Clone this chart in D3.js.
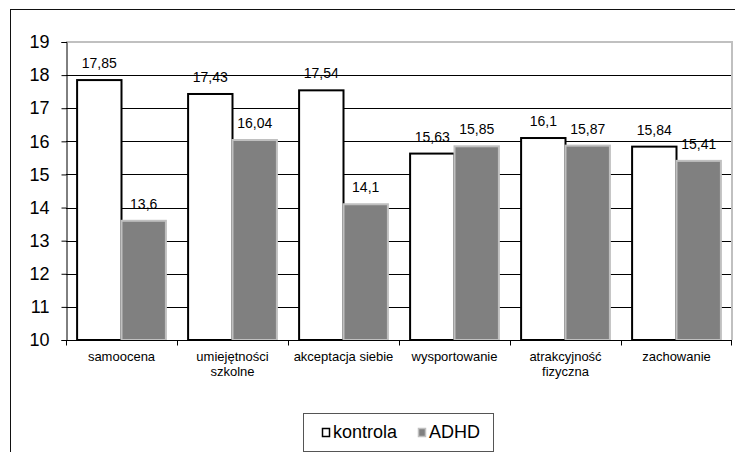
<!DOCTYPE html>
<html>
<head>
<meta charset="utf-8">
<script src="https://cdn.jsdelivr.net/npm/d3@7"></script>
<style>
  body { margin: 0; background: #fff; }
  svg { font-family: Arial, "Liberation Sans", sans-serif; display: block; }
</style>
</head>
<body>
<div id="chart"></div>
<script>
const categories = ['samoocena', 'umiejętności szkolne', 'akceptacja siebie', 'wysportowanie', 'atrakcyjność fizyczna', 'zachowanie'];
const categoryLines = [['samoocena'], ['umiejętności', 'szkolne'], ['akceptacja siebie'], ['wysportowanie'], ['atrakcyjność', 'fizyczna'], ['zachowanie']];
const seriesNames = ['kontrola', 'ADHD'];
const kontrola = [17.85, 17.43, 17.54, 15.63, 16.1, 15.84];
const adhd = [13.6, 16.04, 14.1, 15.85, 15.87, 15.41];
const yTicks = [10, 11, 12, 13, 14, 15, 16, 17, 18, 19];

const width = 735, height = 452;
const plot = {left: 66, right: 732, top: 42, bottom: 340};

const svg = d3.select('#chart').append('svg')
    .attr('width', width)
    .attr('height', height);

// outer frame (only top and left visible in the crop)
svg.append('line')
    .attr('x1', 10).attr('x2', width).attr('y1', 9.5).attr('y2', 9.5)
    .attr('stroke', '#111').attr('stroke-width', 1);
svg.append('line')
    .attr('x1', 10.5).attr('x2', 10.5).attr('y1', 9).attr('y2', height)
    .attr('stroke', '#111').attr('stroke-width', 1);

const x = d3.scaleBand()
    .domain(categories)
    .range([plot.left, plot.right])
    .padding(0);

const xSeries = d3.scaleBand()
    .domain(seriesNames)
    .range([0, x.bandwidth()])
    .paddingInner(0)
    .paddingOuter(0.25);

const y = d3.scaleLinear()
    .domain([10, 19])
    .range([plot.bottom, plot.top]);

// plot area border (grey, top + right)
svg.append('path')
    .attr('d', `M${plot.left},${plot.top}H${plot.right}V${plot.bottom}`)
    .attr('fill', 'none')
    .attr('stroke', '#c0c0c0')
    .attr('stroke-width', 2);

// gridlines
svg.append('g')
    .selectAll('line')
    .data(yTicks.filter(t => t > 10 && t < 19))
    .join('line')
    .attr('x1', plot.left).attr('x2', plot.right - 1)
    .attr('y1', d => Math.round(y(d)) + 0.5)
    .attr('y2', d => Math.round(y(d)) + 0.5)
    .attr('stroke', '#000');

// y axis
const yAxis = svg.append('g')
    .attr('transform', `translate(${plot.left + 0.5},0)`)
    .call(d3.axisLeft(y).tickValues(yTicks).tickSize(5).tickPadding(12).tickFormat(d3.format('d')));
yAxis.select('.domain').attr('stroke', '#000');
yAxis.selectAll('.tick line').attr('stroke', '#000');
yAxis.selectAll('text')
    .attr('font-size', 18)
    .attr('font-family', 'Arial, "Liberation Sans", sans-serif')
    .attr('fill', '#000');

const groups = svg.append('g')
    .selectAll('g')
    .data(categories.map((c, i) => ({c, i})))
    .join('g')
    .attr('transform', d => `translate(${x(d.c)},0)`);

const fmt = v => String(v).replace('.', ',');

// kontrola bars
groups.append('rect')
    .attr('x', xSeries('kontrola'))
    .attr('y', d => y(kontrola[d.i]))
    .attr('width', xSeries.bandwidth())
    .attr('height', d => y(10) - y(kontrola[d.i]))
    .attr('fill', '#fff')
    .attr('stroke', '#000')
    .attr('stroke-width', 2);

// ADHD bars
groups.append('rect')
    .attr('x', xSeries('ADHD'))
    .attr('y', d => y(adhd[d.i]))
    .attr('width', xSeries.bandwidth())
    .attr('height', d => y(10) - y(adhd[d.i]))
    .attr('fill', '#808080')
    .attr('stroke', '#c0c0c0')
    .attr('stroke-width', 2);

// value labels
groups.append('text')
    .attr('x', xSeries('kontrola') + xSeries.bandwidth() / 2)
    .attr('y', d => y(kontrola[d.i]) - 12)
    .attr('text-anchor', 'middle')
    .attr('font-size', 14)
    .text(d => fmt(kontrola[d.i]));

groups.append('text')
    .attr('x', xSeries('ADHD') + xSeries.bandwidth() / 2)
    .attr('y', d => y(adhd[d.i]) - 12)
    .attr('text-anchor', 'middle')
    .attr('font-size', 14)
    .text(d => fmt(adhd[d.i]));

// x axis
const xAxis = svg.append('g')
    .attr('transform', `translate(0,${plot.bottom + 0.5})`);
xAxis.append('line')
    .attr('x1', plot.left).attr('x2', plot.right)
    .attr('stroke', '#000');
xAxis.selectAll('.xtick')
    .data(categories.concat(['end']))
    .join('line')
    .attr('class', 'xtick')
    .attr('x1', d => d === 'end' ? plot.right - 0.5 : Math.round(x(d)) + 0.5)
    .attr('x2', d => d === 'end' ? plot.right - 0.5 : Math.round(x(d)) + 0.5)
    .attr('y1', 0).attr('y2', 5)
    .attr('stroke', '#000');

groups.append('text')
    .attr('text-anchor', 'middle')
    .attr('font-size', 13)
    .attr('x', x.bandwidth() / 2)
    .attr('y', 361)
    .selectAll('tspan')
    .data(d => categoryLines[d.i])
    .join('tspan')
    .attr('x', x.bandwidth() / 2)
    .attr('dy', (d, i) => i === 0 ? 0 : 15)
    .text(d => d);

// legend
const legend = svg.append('g');
legend.append('rect')
    .attr('x', 303.5).attr('y', 413.5)
    .attr('width', 190).attr('height', 38)
    .attr('fill', '#fff')
    .attr('stroke', '#555');

const legendItems = [
    {name: 'kontrola', fill: '#fff', stroke: '#000', x: 322},
    {name: 'ADHD', fill: '#808080', stroke: '#c0c0c0', x: 418}
];
legendItems.forEach(d => {
    legend.append('rect')
        .attr('x', d.x + 0.5).attr('y', 428.5)
        .attr('width', 7).attr('height', 8)
        .attr('fill', d.fill)
        .attr('stroke', d.stroke)
        .attr('stroke-width', 1.5);
    legend.append('text')
        .attr('x', d.x + 11)
        .attr('y', 438)
        .attr('font-size', 18)
        .text(d.name);
});
</script>
</body>
</html>
